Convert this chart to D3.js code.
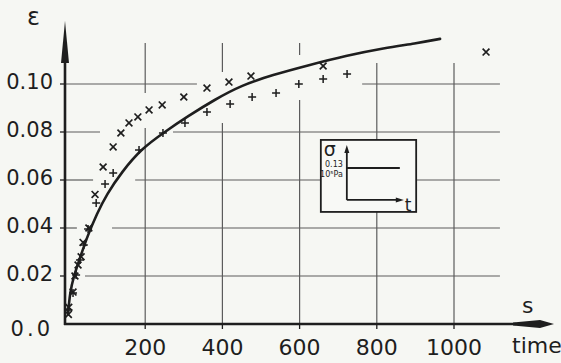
<!DOCTYPE html>
<html>
<head>
<meta charset="utf-8">
<script src="https://cdn.jsdelivr.net/npm/d3@7"></script>
<style>
body { margin: 0; background: #f6f7f3; }
svg { display: block; }
text { fill: #1e1e1e; font-family: "DejaVu Sans", sans-serif; }
</style>
</head>
<body>
<svg width="561" height="363"></svg>
<script>
// axis ticks
var timeTicks = [200, 400, 600, 800, 1000];
var strainTicks = [0, 0.02, 0.04, 0.06, 0.08, 0.10];
var strainTickLabels = ["0.0", "0.02", "0.04", "0.06", "0.08", "0.10"];

// measured points, "x" marks (time s, strain)
var crossTime = [1, 2, 13, 18, 26, 34, 39, 54, 70, 91, 117, 137, 158, 181, 210, 244, 300, 360, 417, 474, 661, 1083];
var crossStrain = [0.004, 0.007, 0.0133, 0.020, 0.0246, 0.028, 0.034, 0.040, 0.054, 0.0654, 0.0738, 0.0796, 0.0838, 0.0863, 0.0892, 0.0913, 0.0946, 0.0983, 0.1008, 0.1033, 0.1075, 0.1133];

// measured points, "+" marks
var plusTime = [1, 13, 21, 31, 41, 52, 73, 96, 117, 184, 246, 303, 360, 420, 477, 539, 598, 661, 723];
var plusStrain = [0.0058, 0.0129, 0.0204, 0.0267, 0.0329, 0.0396, 0.0504, 0.0583, 0.0629, 0.0725, 0.0796, 0.0838, 0.0883, 0.0917, 0.0946, 0.0963, 0.100, 0.1021, 0.1042];

// fitted curve
var curveTime = [0, 0, 5, 15, 30, 50, 75, 100, 140, 190, 250, 310, 380, 450, 530, 620, 720, 820, 900, 964, 964];
var curveStrain = [0.004, 0.004, 0.013, 0.020, 0.027, 0.0365, 0.046, 0.054, 0.0635, 0.073, 0.080, 0.0865, 0.0935, 0.0995, 0.1038, 0.1077, 0.1118, 0.115, 0.1169, 0.1188, 0.1188];

var svg = d3.select("svg");
var ink = "#1e1e1e";
var gridInk = "#5c5c5c";

var xScale = d3.scaleLinear().domain([0, 1000]).range([68, 454]);
var yScale = d3.scaleLinear().domain([0, 0.1]).range([324, 84]);
var axisX = 65;

// grid, drawn in pieces so it stops short of the points (as on the original)
var hGrid = [
    { e: 0.02, parts: [[44, 1119]] },
    { e: 0.04, parts: [[-8, 23], [114, 1119]] },
    { e: 0.06, parts: [[-8, 65], [174, 655], [902, 1119]] },
    { e: 0.08, parts: [[-8, 83], [272, 1119]] },
    { e: 0.10, parts: [[-8, 334], [762, 1119]] }
];
var vGrid = [
    { t: 200, parts: [[0, 0.0817], [0.0963, 0.1171]] },
    { t: 400, parts: [[0, 0.0838], [0.105, 0.1171]] },
    { t: 600, parts: [[0, 0.0933], [0.1121, 0.1171]] },
    { t: 800, parts: [[0, 0.0467], [0.0767, 0.1088]] },
    { t: 1000, parts: [[0, 0.1088]] }
];

hGrid.forEach(function (g) {
    svg.selectAll(null)
        .data(g.parts)
        .enter()
        .append("line")
        .attr("x1", d => xScale(d[0]))
        .attr("x2", d => xScale(d[1]))
        .attr("y1", yScale(g.e))
        .attr("y2", yScale(g.e))
        .style("stroke", gridInk)
        .style("stroke-width", 1.2);
});

vGrid.forEach(function (g) {
    svg.selectAll(null)
        .data(g.parts)
        .enter()
        .append("line")
        .attr("x1", xScale(g.t))
        .attr("x2", xScale(g.t))
        .attr("y1", d => yScale(d[0]))
        .attr("y2", d => yScale(d[1]))
        .style("stroke", gridInk)
        .style("stroke-width", 1.2);
});

// Tick marks
svg.selectAll(null)
    .data(strainTicks.slice(1))
    .enter()
    .append("line")
    .attr("x1", axisX - 5)
    .attr("x2", axisX)
    .attr("y1", d => yScale(d))
    .attr("y2", d => yScale(d))
    .style("stroke", ink)
    .style("stroke-width", 1.3);

svg.selectAll(null)
    .data(timeTicks)
    .enter()
    .append("line")
    .attr("x1", d => xScale(d))
    .attr("x2", d => xScale(d))
    .attr("y1", yScale(0))
    .attr("y2", yScale(0) + 5)
    .style("stroke", ink)
    .style("stroke-width", 1.3);

// Y axis with arrow
svg.append("line")
    .attr("x1", axisX)
    .attr("x2", axisX)
    .attr("y1", yScale(0) + 1)
    .attr("y2", 60)
    .style("stroke", ink)
    .style("stroke-width", 2.6);

svg.append("path")
    .attr("d", "M" + axisX + ",21L" + (axisX - 4) + ",63L" + (axisX + 4) + ",63Z")
    .attr("fill", ink);

// X axis with arrow
svg.append("line")
    .attr("x1", axisX - 1)
    .attr("x2", 516)
    .attr("y1", yScale(0))
    .attr("y2", yScale(0))
    .style("stroke", ink)
    .style("stroke-width", 2.4);

var x0 = yScale(0);
svg.append("path")
    .attr("d", "M513," + (x0 - 1.5) + "L540," + (x0 - 4) + "L554," + x0 + "L540," + (x0 + 4) + "L513," + (x0 + 1.5) + "Z")
    .attr("fill", ink);

// Tick labels
svg.selectAll(null)
    .data(strainTicks)
    .enter()
    .append("text")
    .attr("x", 53)
    .attr("y", d => yScale(d) + (d === 0 ? 12 : 5))
    .attr("text-anchor", "end")
    .style("font-size", "21px")
    .style("letter-spacing", d => d === 0 ? "3px" : "0px")
    .text((d, i) => strainTickLabels[i]);

svg.selectAll(null)
    .data(timeTicks)
    .enter()
    .append("text")
    .attr("x", d => xScale(d))
    .attr("y", 355)
    .attr("text-anchor", "middle")
    .style("font-size", "22px")
    .text(d => d);

// Axis titles
svg.append("text").attr("x", 27).attr("y", 25).style("font-size", "24px").text("ε");
svg.append("text").attr("x", 522).attr("y", 313).style("font-size", "22px").text("s");
svg.append("text").attr("x", 512).attr("y", 353).style("font-size", "22px").text("time");

// Fitted curve (end points doubled so the B-spline reaches them)
var curveData = curveTime.map((t, i) => ({ t: t, e: curveStrain[i] }));
var line = d3.line()
    .x(d => xScale(d.t))
    .y(d => yScale(d.e))
    .curve(d3.curveBasis);

svg.append("path")
    .attr("d", line(curveData))
    .attr("fill", "none")
    .attr("stroke", ink)
    .attr("stroke-width", 2.6)
    .attr("stroke-linecap", "round");

// Points
var crossData = crossTime.map((t, i) => ({ t: t, e: crossStrain[i] }));
var plusData = plusTime.map((t, i) => ({ t: t, e: plusStrain[i] }));

svg.selectAll("path.cross")
    .data(crossData)
    .enter()
    .append("path")
    .attr("class", "cross")
    .attr("transform", d => "translate(" + xScale(d.t) + "," + yScale(d.e) + ")")
    .attr("d", "M-3.4,-3.4L3.4,3.4M-3.4,3.4L3.4,-3.4")
    .attr("stroke", ink)
    .attr("stroke-width", 1.7)
    .attr("fill", "none");

svg.selectAll("path.plus")
    .data(plusData)
    .enter()
    .append("path")
    .attr("class", "plus")
    .attr("transform", d => "translate(" + xScale(d.t) + "," + yScale(d.e) + ")")
    .attr("d", "M-4,0H4M0,-4V4")
    .attr("stroke", ink)
    .attr("stroke-width", 1.5)
    .attr("fill", "none");

// Inset: stress history sketch
var bx = xScale(655), by = yScale(0.0767);
var bw = xScale(902) - bx, bh = yScale(0.0467) - by;
var inset = svg.append("g").attr("transform", "translate(" + bx + "," + by + ")");

inset.append("rect")
    .attr("width", bw)
    .attr("height", bh)
    .attr("fill", "#f8f9f6")
    .attr("stroke", ink)
    .attr("stroke-width", 1.8);

inset.append("line")
    .attr("x1", 26).attr("x2", 26).attr("y1", 60).attr("y2", 10)
    .attr("stroke", ink).attr("stroke-width", 1.8);
inset.append("path").attr("d", "M26,5L23.5,13L28.5,13Z").attr("fill", ink);

inset.append("line")
    .attr("x1", 26).attr("x2", 78).attr("y1", 60).attr("y2", 60)
    .attr("stroke", ink).attr("stroke-width", 1.8);
inset.append("path").attr("d", "M83,60L75,57.5L75,62.5Z").attr("fill", ink);

inset.append("line")
    .attr("x1", 26).attr("x2", 79).attr("y1", 28).attr("y2", 28)
    .attr("stroke", ink).attr("stroke-width", 2);

inset.append("text").attr("x", 3).attr("y", 16).style("font-size", "19px").text("σ");
inset.append("text").attr("x", 84).attr("y", 71).style("font-size", "17px").text("t");
inset.append("text").attr("x", 22).attr("y", 27).attr("text-anchor", "end").style("font-size", "8px").text("0.13");
inset.append("text").attr("x", 22).attr("y", 37).attr("text-anchor", "end").style("font-size", "8px").text("10⁵Pa");
</script>
</body>
</html>
